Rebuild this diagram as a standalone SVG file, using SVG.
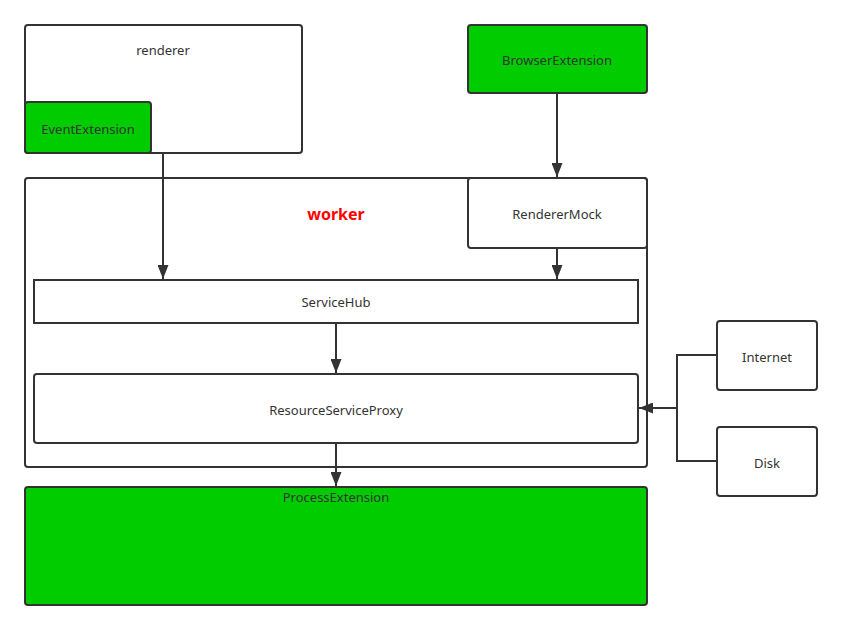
<svg xmlns="http://www.w3.org/2000/svg" width="841" height="630" viewBox="0 0 841 630">
<style>
.box{fill:#fff;stroke:#333;stroke-width:2}
.green{fill:#00cc00;stroke:#333;stroke-width:2}
.t{font-family:"Noto Sans","Liberation Sans",sans-serif;font-size:13px;fill:#333;text-anchor:middle;dominant-baseline:central}
.w{font-family:"Noto Sans","Liberation Sans",sans-serif;font-size:16px;font-weight:bold;fill:#ff0000;text-anchor:middle;dominant-baseline:central}
.c{fill:none;stroke:#333;stroke-width:2}
</style>
<defs>
<marker id="arr" markerWidth="14" markerHeight="11" refX="14" refY="5.5" orient="auto" markerUnits="userSpaceOnUse">
<path d="M0,0 L14,5.5 L0,11 Z" fill="#333"/>
</marker>
</defs>
<rect width="841" height="630" fill="#fff"/>
<g id="renderer">
<rect class="box" x="25" y="25" width="277" height="128" rx="3"/>
<text class="t" x="163" y="50">renderer</text>
</g>
<g id="EventExtension">
<rect class="green" x="25" y="102" width="126" height="51" rx="3"/>
<text class="t" x="88" y="129">EventExtension</text>
</g>
<g id="BrowserExtension">
<rect class="green" x="468" y="25" width="179" height="68" rx="3"/>
<text class="t" x="557" y="60">BrowserExtension</text>
</g>
<g id="worker">
<rect class="box" x="25" y="178" width="622" height="289" rx="3"/>
<text class="w" x="336" y="214">worker</text>
</g>
<g id="RendererMock">
<rect class="box" x="468" y="178" width="179" height="70" rx="3"/>
<text class="t" x="557" y="214">RendererMock</text>
</g>
<g id="ServiceHub">
<rect class="box" x="34" y="280" width="604" height="43"/>
<text class="t" x="336" y="302">ServiceHub</text>
</g>
<g id="ResourceServiceProxy">
<rect class="box" x="34" y="374" width="604" height="69" rx="3"/>
<text class="t" x="336" y="410">ResourceServiceProxy</text>
</g>
<g id="ProcessExtension">
<rect class="green" x="25" y="487" width="622" height="118" rx="3"/>
<text class="t" x="336" y="497">ProcessExtension</text>
</g>
<g id="Internet">
<rect class="box" x="717" y="321" width="100" height="69" rx="3"/>
<text class="t" x="767" y="357">Internet</text>
</g>
<g id="Disk">
<rect class="box" x="717" y="427" width="100" height="69" rx="3"/>
<text class="t" x="767" y="463">Disk</text>
</g>
<g id="connectors">
<path class="c" d="M163,154 L163,279" marker-end="url(#arr)"/>
<path class="c" d="M557,94 L557,177" marker-end="url(#arr)"/>
<path class="c" d="M557,249 L557,279" marker-end="url(#arr)"/>
<path class="c" d="M336,324 L336,373" marker-end="url(#arr)"/>
<path class="c" d="M336,444 L336,486" marker-end="url(#arr)"/>
<path class="c" d="M716,355 L677,355 L677,408 L639,408" marker-end="url(#arr)"/>
<path class="c" d="M716,461 L677,461 L677,408"/>
</g>
</svg>
